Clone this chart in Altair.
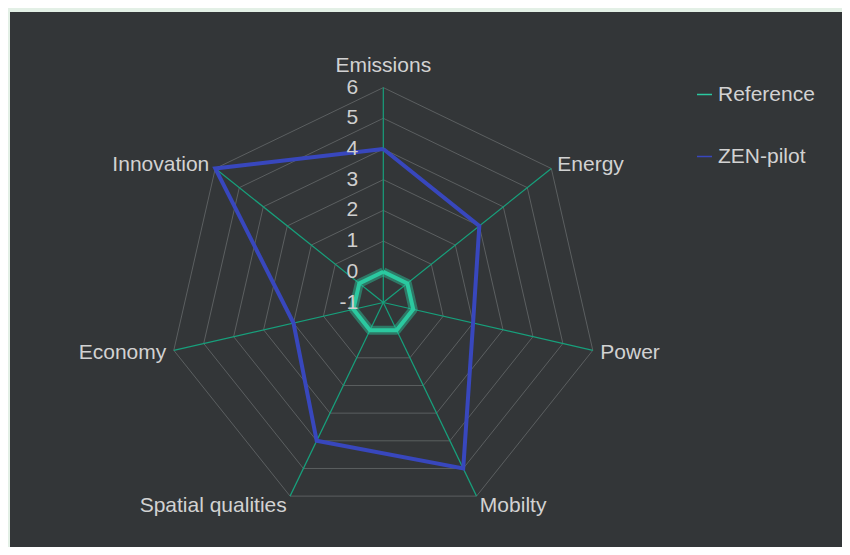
import math
import altair as alt
import pandas as pd

# ---------------- data ----------------
AXES = ["Emissions", "Energy", "Power", "Mobilty", "Spatial qualities", "Economy", "Innovation"]
REFERENCE = [0, 0, 0, 0, 0, 0, 0]
ZEN_PILOT = [4, 3, 2, 5, 4, 2, 6]
TICKS = [-1, 0, 1, 2, 3, 4, 5, 6]
SERIES = ["Reference", "ZEN-pilot"]
COLORS = ["#2bc9a0", "#3847bd"]

N = len(AXES)
RMIN = TICKS[0]
RMAX = TICKS[-1]

# ---------------- tables ----------------
series_rows = []
for s, vals in zip(SERIES, [REFERENCE, ZEN_PILOT]):
    for k in range(N + 1):
        i = k % N
        series_rows.append({"series": s, "axis": AXES[i], "idx": i, "ord": k, "value": vals[i]})
series_df = pd.DataFrame(series_rows)

grid_rows = []
for lv in TICKS[1:]:
    for k in range(N + 1):
        grid_rows.append({"level": lv, "idx": k % N, "ord": k, "value": lv})
grid_df = pd.DataFrame(grid_rows)

axes_df = pd.DataFrame({"axis": AXES, "idx": list(range(N)), "value": [RMAX] * N})
ticks_df = pd.DataFrame({"tick": TICKS, "value": TICKS, "idx": [0] * len(TICKS)})

ANG = f"datum.idx * 2 * PI / {N}"
XEXPR = f"(datum.value - ({RMIN})) * sin({ANG})"
YEXPR = f"(datum.value - ({RMIN})) * cos({ANG})"

# ---------------- layout ----------------
W, H = 834, 539
CX, CY = 375.3, 294.5   # centre in plot pixels
UNIT = 30.7             # px per value unit
xs = alt.Scale(domain=[-CX / UNIT, (W - CX) / UNIT], nice=False, zero=False)
ys = alt.Scale(domain=[-(H - CY) / UNIT, CY / UNIT], nice=False, zero=False)

FONT = "Liberation Sans"
BG = "#333638"
TXT = "#d2d2d2"
FS = 21

bg = alt.Chart(pd.DataFrame({"a": [0]})).mark_rect(color=BG).encode(
    x=alt.value(2), x2=alt.value(W), y=alt.value(4), y2=alt.value(H)
)

grid = alt.Chart(grid_df).transform_calculate(x=XEXPR, y=YEXPR).mark_line(
    color="#66696b", strokeWidth=0.8
).encode(
    x=alt.X("x:Q", scale=xs, axis=None),
    y=alt.Y("y:Q", scale=ys, axis=None),
    detail="level:N",
    order="ord:Q",
)

spokes = alt.Chart(axes_df).transform_calculate(
    x=XEXPR, y=YEXPR, cx="0", cy="0"
).mark_rule(color="#17a07c", strokeWidth=1.2).encode(
    x=alt.X("cx:Q", scale=xs, axis=None),
    y=alt.Y("cy:Q", scale=ys, axis=None),
    x2="x:Q",
    y2="y:Q",
)

glow = alt.Chart(series_df).transform_filter(
    f"datum.series == '{SERIES[0]}'"
).transform_calculate(x=XEXPR, y=YEXPR).mark_line(
    color=COLORS[0], strokeWidth=9, opacity=0.45, strokeJoin="round"
).encode(
    x=alt.X("x:Q", scale=xs, axis=None),
    y=alt.Y("y:Q", scale=ys, axis=None),
    order="ord:Q",
)

lines = alt.Chart(series_df).transform_calculate(x=XEXPR, y=YEXPR).mark_line(
    strokeJoin="miter", strokeWidth=4
).encode(
    x=alt.X("x:Q", scale=xs, axis=None),
    y=alt.Y("y:Q", scale=ys, axis=None),
    color=alt.Color(
        "series:N",
        scale=alt.Scale(domain=SERIES, range=COLORS),
        legend=alt.Legend(
            orient="none", legendX=686, legendY=76, title=None,
            symbolType="stroke", symbolStrokeWidth=1.5, symbolSize=225,
            labelFontSize=FS, labelColor=TXT, labelFont=FONT,
            rowPadding=40, labelOffset=3, padding=0,
        ),
    ),
    order="ord:Q",
)

tick_text = alt.Chart(ticks_df).transform_calculate(x=XEXPR, y=YEXPR).mark_text(
    align="right", baseline="middle", dx=-25, fontSize=FS, font=FONT, color="#cfcfcf"
).encode(
    x=alt.X("x:Q", scale=xs, axis=None),
    y=alt.Y("y:Q", scale=ys, axis=None),
    text="tick:N",
)

LAB_R = f"({RMAX - RMIN} + 0.25)"
lab_calc = dict(
    lx=f"{LAB_R} * sin({ANG})",
    ly=f"{LAB_R} * cos({ANG})",
    s=f"sin({ANG})",
    c=f"cos({ANG})",
)


def label_layer(filt, align, baseline="middle", dy=0):
    c = alt.Chart(axes_df).transform_calculate(**lab_calc).transform_filter(filt)
    return c.mark_text(
        align=align, baseline=baseline, dy=dy, fontSize=FS, font=FONT, color=TXT
    ).encode(
        x=alt.X("lx:Q", scale=xs, axis=None),
        y=alt.Y("ly:Q", scale=ys, axis=None),
        text="axis:N",
    )


lab_left = label_layer("datum.s > 0.01 && datum.c > -0.5", "left", dy=1)
lab_right = label_layer("datum.s < -0.01 && datum.c > -0.5", "right", dy=1)
lab_bl = label_layer("datum.s > 0.01 && datum.c <= -0.5", "left", dy=3)
lab_br = label_layer("datum.s < -0.01 && datum.c <= -0.5", "right", dy=3)
lab_top = label_layer("abs(datum.s) <= 0.01", "center", baseline="alphabetic", dy=-8)

chart = alt.layer(
    bg, grid, spokes, glow, lines, tick_text, lab_left, lab_right, lab_bl, lab_br, lab_top
).properties(
    width=W, height=H, padding=0, autosize=alt.AutoSizeParams(type="none"),
    background="#e3f0e6",
).configure_view(stroke=None)

chart.save("out.html", embed_options={"renderer": "svg", "actions": False})
